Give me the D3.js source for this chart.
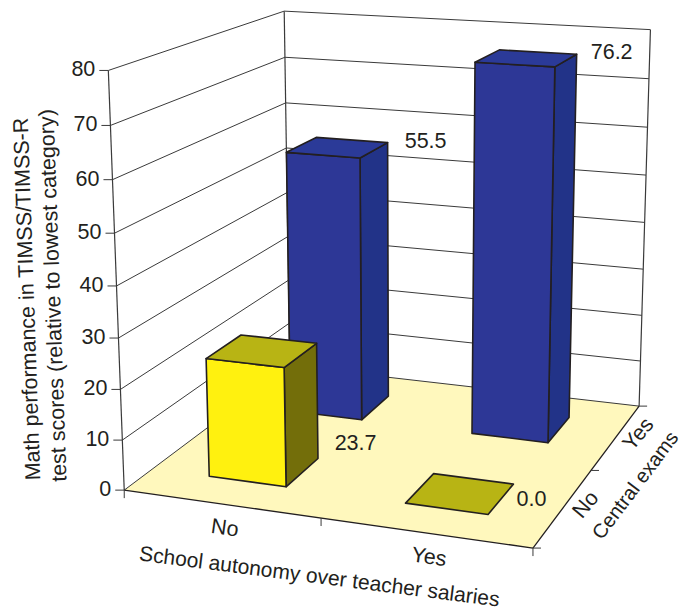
<!DOCTYPE html>
<html>
<head>
<meta charset="utf-8">
<script src="https://cdnjs.cloudflare.com/ajax/libs/d3/7.8.5/d3.min.js"></script>
<style>
html,body{margin:0;padding:0;background:#fff}
svg{display:block}
text{font-family:"Liberation Sans",Arial,sans-serif;fill:#231f20}
</style>
</head>
<body>
<svg id="chart" width="683" height="610"></svg>
<script>
// Chart values
const autonomyCategories = ["No", "Yes"];
const examCategories = ["No", "Yes"];
const valueTicks = [0, 10, 20, 30, 40, 50, 60, 70, 80];
const scoresWithoutExams = [23.7, 0.0];
const scoresWithExams = [55.5, 76.2];
const axisTitleLines = ["Math performance in TIMSS/TIMSS-R", "test scores (relative to lowest category)"];
const autonomyTitle = "School autonomy over teacher salaries";
const examsTitle = "Central exams";

// Box units: x and z run 0..2 (two categories), h runs 0..1
const xBand = d3.scaleBand().domain(autonomyCategories).range([0, 2]).paddingInner(0.6).paddingOuter(0.3);
const zBand = d3.scaleBand().domain(examCategories).range([0, 2]).paddingInner(0.6).paddingOuter(0.3);
const hScale = d3.scaleLinear().domain([0, 80]).range([0, 1]);

// Camera calibration: box corners and their place on the page
const calibration = [
  [0, 0, 0, 124, 490], [1, 0, 0, 320.7, 518], [2, 0, 0, 532, 548],
  [0, 2, 0, 290, 366], [2, 2, 0, 638, 406], [2, 1, 0, 593, 470.7],
  [0, 0, 1, 108.3, 70.5], [0, 2, 1, 284, 10.7], [2, 2, 1, 650.3, 30],
  [0, 0, 0.5, 117, 286], [2, 2, 0.5, 645, 222], [0, 2, 0.5, 287, 193]
];

function solveCamera(rows) {
  const A = [], b = [];
  rows.forEach(([x, z, h, u, v]) => {
    const U = u / 100, V = v / 100;
    A.push([x, z, h, 1, 0, 0, 0, 0, -U * x, -U * z, -U * h]); b.push(U);
    A.push([0, 0, 0, 0, x, z, h, 1, -V * x, -V * z, -V * h]); b.push(V);
  });
  const n = 11;
  const M = d3.range(n).map(i => d3.range(n + 1).map(j =>
    d3.sum(A, (r, k) => r[i] * (j < n ? r[j] : b[k]))));
  for (let c = 0; c < n; c++) {
    let p = c;
    for (let r = c + 1; r < n; r++) if (Math.abs(M[r][c]) > Math.abs(M[p][c])) p = r;
    [M[c], M[p]] = [M[p], M[c]];
    for (let r = 0; r < n; r++) {
      if (r === c) continue;
      const f = M[r][c] / M[c][c];
      for (let j = c; j <= n; j++) M[r][j] -= f * M[c][j];
    }
  }
  return d3.range(n).map(i => M[i][n] / M[i][i]);
}
const cam = solveCamera(calibration);
function project(x, z, h) {
  const w = cam[8] * x + cam[9] * z + cam[10] * h + 1;
  return [100 * (cam[0] * x + cam[1] * z + cam[2] * h + cam[3]) / w,
          100 * (cam[4] * x + cam[5] * z + cam[6] * h + cam[7]) / w];
}

const svg = d3.select("#chart");
const inkColor = "#231f20";
const ruleColor = "#3a3a3a";
const poly = (pts, fill, stroke, width) => svg.append("polygon")
  .attr("points", pts.map(p => p.join(",")).join(" "))
  .attr("fill", fill).attr("stroke", stroke || "none").attr("stroke-width", width || 0)
  .attr("stroke-linejoin", "round");
const seg = (a, b, stroke, width) => svg.append("line")
  .attr("x1", a[0]).attr("y1", a[1]).attr("x2", b[0]).attr("y2", b[1])
  .attr("stroke", stroke).attr("stroke-width", width);
const label = (p, txt, size, angle) => svg.append("text")
  .attr("transform", `translate(${p[0]},${p[1]}) rotate(${angle || 0})`)
  .attr("text-anchor", "middle").attr("dominant-baseline", "central")
  .attr("font-size", size).text(txt);

// Floor
poly([project(0, 0, 0), project(2, 0, 0), project(2, 2, 0), project(0, 2, 0)], "#fff8bd");

// Wall rules and value ticks
valueTicks.forEach(t => {
  const h = hScale(t);
  const a = project(0, 0, h), b = project(0, 2, h), c = project(2, 2, h);
  seg(a, b, ruleColor, 1);
  seg(b, c, ruleColor, 1);
  seg([a[0] - 9, a[1]], a, ruleColor, 1);
  svg.append("text").attr("x", a[0] - 13).attr("y", a[1] - 1).attr("text-anchor", "end")
    .attr("dominant-baseline", "central").attr("font-size", 21.5).text(t);
});
seg(project(0, 0, 0), project(0, 0, 1), ruleColor, 1.2);
seg(project(0, 2, 0), project(0, 2, 1), ruleColor, 1.2);
seg(project(2, 2, 0), project(2, 2, 1), ruleColor, 1.2);

// Floor edges and category ticks
seg(project(0, 0, 0), project(2, 0, 0), inkColor, 1.3);
seg(project(2, 0, 0), project(2, 2, 0), inkColor, 1.3);
[0, 1, 2].forEach(i => { const p = project(i, 0, 0); seg(p, [p[0], p[1] + 8], ruleColor, 1); });
[0, 1, 2].forEach(i => { const p = project(2, i, 0); seg(p, [p[0] + 8, p[1]], ruleColor, 1); });

// Bars: back row first
const yellow = { front: "#fff10f", top: "#b8b414", side: "#736e0a" };
const blue = { front: "#2d3796", top: "#2b3a98", side: "#223388" };
function bar(xCat, zCat, value, colors) {
  const x0 = xBand(xCat), x1 = x0 + xBand.bandwidth();
  const z0 = zBand(zCat), z1 = z0 + zBand.bandwidth();
  const h = hScale(value);
  if (h > 0) {
    poly([project(x1, z0, 0), project(x1, z1, 0), project(x1, z1, h), project(x1, z0, h)], colors.side, inkColor, 1.6);
    poly([project(x0, z0, 0), project(x1, z0, 0), project(x1, z0, h), project(x0, z0, h)], colors.front, inkColor, 1.6);
  }
  poly([project(x0, z0, h), project(x1, z0, h), project(x1, z1, h), project(x0, z1, h)], colors.top, inkColor, 1.6);
  return project(x1, z1, h);
}
const rows = [
  { cat: "Yes", values: scoresWithExams, colors: blue, off: [[38, -2], [35, -2]] },
  { cat: "No", values: scoresWithoutExams, colors: yellow, off: [[39, 100], [18, 15]] }
];
const fmt = d3.format(".1f");
const pending = [];
rows.forEach(row => {
  autonomyCategories.forEach((c, i) => {
    const corner = bar(c, row.cat, row.values[i], row.colors);
    pending.push([[corner[0] + row.off[i][0], corner[1] + row.off[i][1]], fmt(row.values[i])]);
  });
});
pending.forEach(([p, t]) => label(p, t, 21.5));

// Category labels and axis titles
autonomyCategories.forEach(c => {
  const p = project(xBand(c) + xBand.bandwidth() / 2, 0, 0);
  label([p[0] + 4, p[1] + 24], c, 21.5, 8);
});
examCategories.forEach(c => {
  const p = project(2, zBand(c) + zBand.bandwidth() / 2, 0);
  label([p[0] + 22, p[1] - 3], c, 21.5, -50);
});
label([319.5, 576], autonomyTitle, 21, 7.3);
label([635, 485], examsTitle, 20, -53);
const titleSpots = [[27, 299], [53, 295.5]];
axisTitleLines.forEach((t, i) => label(titleSpots[i], t, 21.5, -92));
</script>
</body>
</html>
